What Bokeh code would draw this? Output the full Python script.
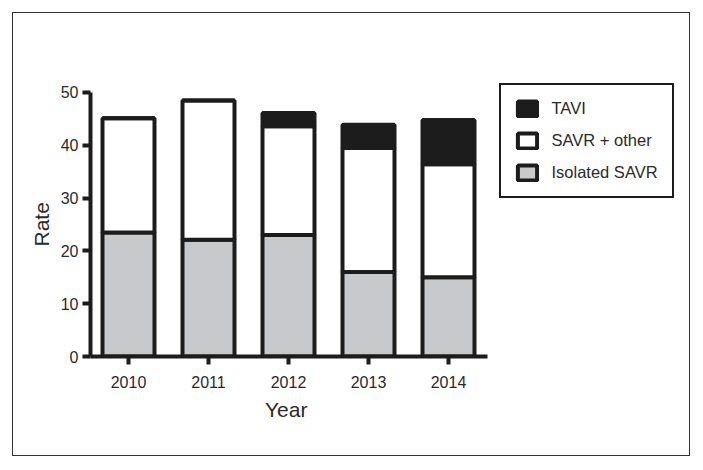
from bokeh.plotting import figure
from bokeh.models import (ColumnDataSource, Range1d, Legend, LegendItem,
                          FixedTicker, Title)
from bokeh.embed import file_html
from bokeh.resources import INLINE

years = [2010, 2011, 2012, 2013, 2014]
isolated_savr = [23.5, 22.1, 23.0, 16.0, 15.0]
savr_other = [21.6, 26.4, 20.6, 23.5, 21.4]
tavi = [0.0, 0.0, 2.5, 4.4, 8.4]
series_labels = ["Isolated SAVR", "SAVR + other", "TAVI"]
y_ticks = [0, 10, 20, 30, 40, 50]

FONT = "Liberation Sans"
INK = "#1c1c1c"
TXT = "#2a2a2a"

source = ColumnDataSource(dict(year=years, iso=isolated_savr, other=savr_other, tavi=tavi))

p = figure(width=678, height=444, x_range=Range1d(2009.525, 2016.9),
           y_range=Range1d(0, 52.46), output_backend="svg", toolbar_location=None,
           min_border_left=77, min_border_right=11, min_border_top=66,
           min_border_bottom=101,
           styles={"border": "1.5px solid #333333", "margin-left": "12px",
                   "margin-top": "12px"})
p.outline_line_color = None
p.xgrid.grid_line_color = None
p.ygrid.grid_line_color = None
p.background_fill_color = "white"
p.border_fill_color = "white"

renderers = p.vbar_stack(["iso", "other", "tavi"], x="year", width=0.65, source=source,
                         fill_color=["#c8c9cb", "#ffffff", INK], line_color=INK,
                         line_width=4)

for ax in (p.xaxis[0], p.yaxis[0]):
    ax.axis_line_color = INK
    ax.axis_line_width = 4
    ax.major_tick_line_color = INK
    ax.major_tick_line_width = 4
    ax.major_tick_out = 8
    ax.major_tick_in = 0
    ax.minor_tick_line_color = None
    ax.major_label_text_font = FONT
    ax.major_label_text_font_size = "16px"
    ax.major_label_text_color = TXT

p.xaxis.ticker = FixedTicker(ticks=years)
p.xaxis.bounds = (2009.525, 2014.49)
p.yaxis.ticker = FixedTicker(ticks=y_ticks)
p.yaxis.bounds = (0, 50)
p.xaxis.major_label_standoff = 11
p.yaxis.major_label_standoff = 4

p.add_layout(Title(text="Year", align="left", offset=174.5, standoff=14,
                   vertical_align="top", text_font=FONT, text_font_size="21px",
                   text_font_style="normal", text_color=TXT), "below")
p.add_layout(Title(text="Rate", align="left", offset=110, standoff=10,
                   vertical_align="bottom", text_font=FONT, text_font_size="21px",
                   text_font_style="normal", text_color=TXT), "left")

items = [LegendItem(label=series_labels[i], renderers=[renderers[i]]) for i in (2, 1, 0)]
legend = Legend(items=items, location=(408.5, 158.5), margin=0, padding=14,
                border_line_color=INK, border_line_width=2, border_line_alpha=1,
                label_text_font=FONT, label_text_font_size="16.5px",
                label_text_color=TXT, glyph_width=24, glyph_height=19,
                label_height=19, spacing=13, label_standoff=13,
                background_fill_color="white", background_fill_alpha=1)
p.add_layout(legend, "center")

open("out.html", "w").write(file_html(p, INLINE))
